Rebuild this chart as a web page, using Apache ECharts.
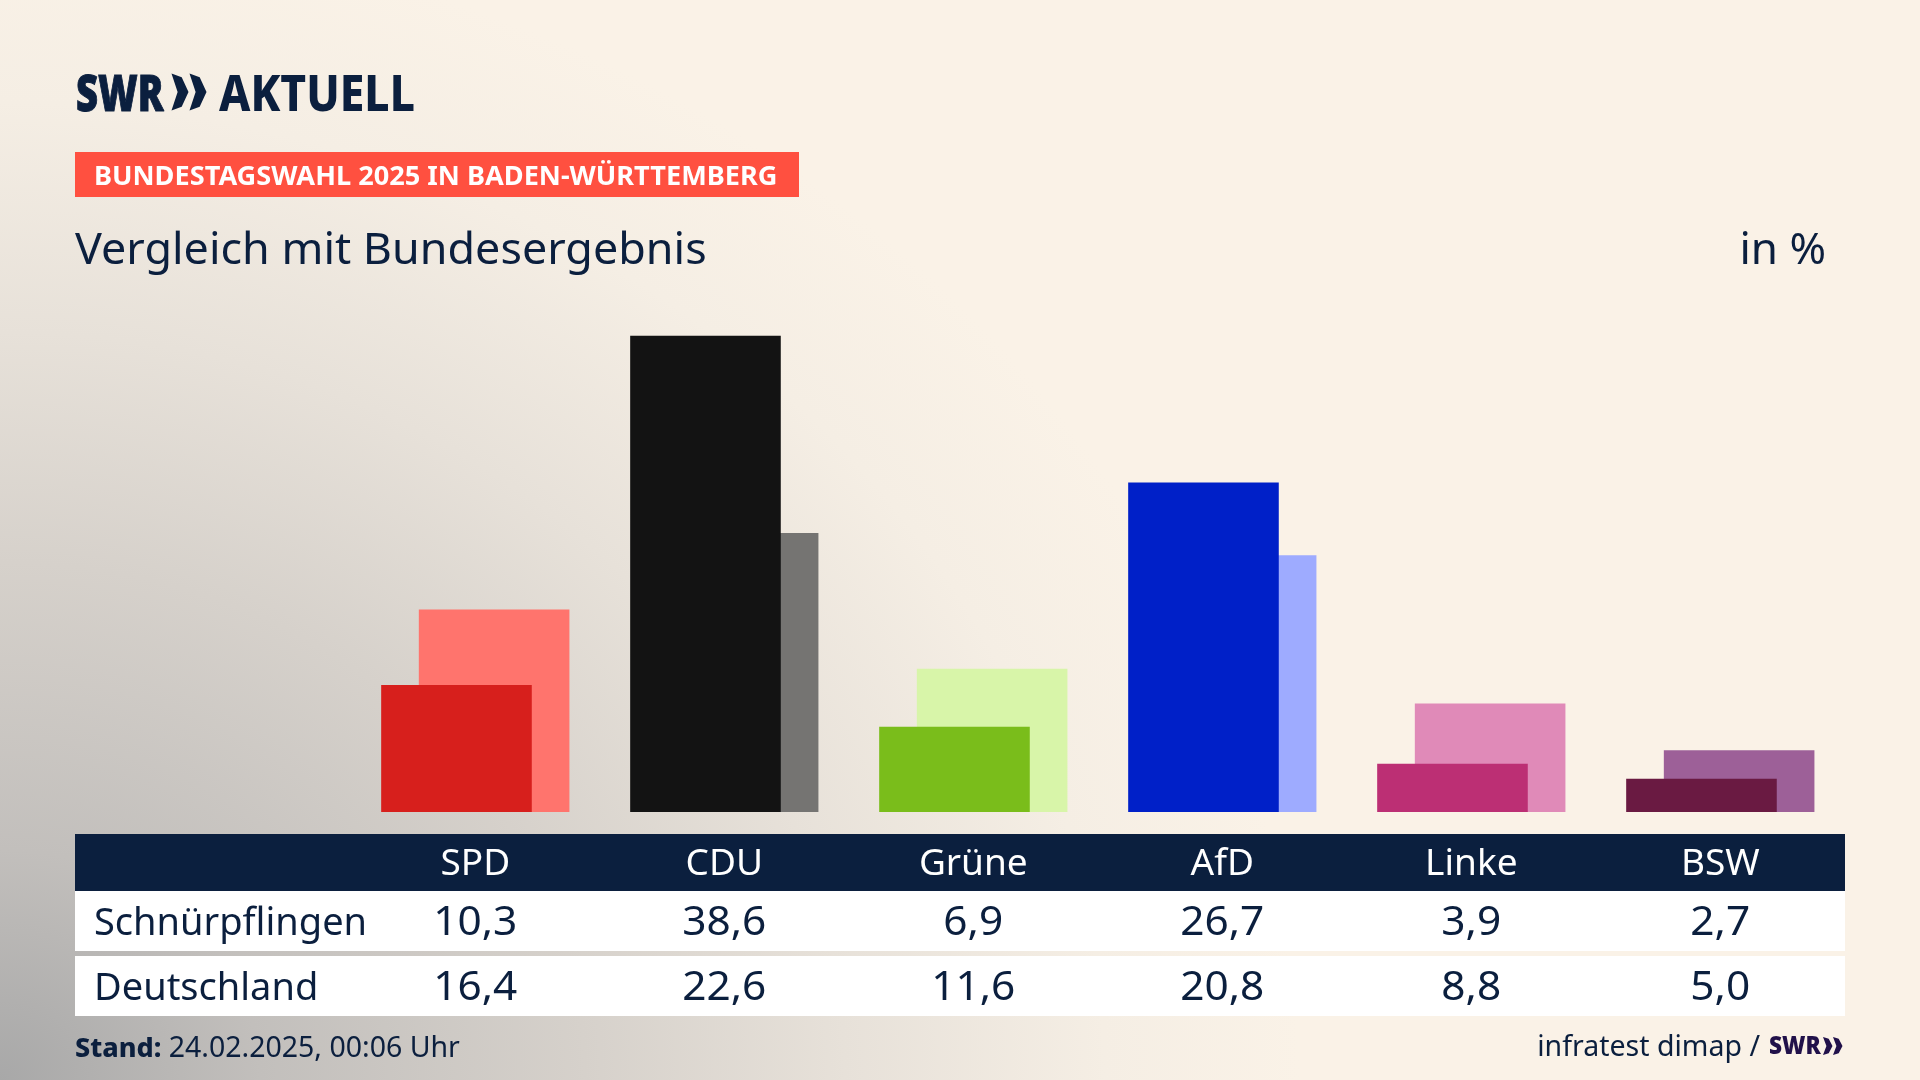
<!DOCTYPE html>
<html>
<head>
<meta charset="utf-8">
<style>
    html,body{margin:0;padding:0;width:1920px;height:1080px;overflow:hidden;background:#FAF2E7;}
    #main{width:1920px;height:1080px;background:radial-gradient(ellipse 1300px 1150px at 0px 1080px,#a8a8a8 0%,#c2bfbc 20%,#d6d1cb 45%,#e7e1d9 65%,#f5eee4 85%,#FAF2E7 100%);}
</style>
</head>
<body>
<div id="main"></div>
<script src="https://cdn.jsdelivr.net/npm/echarts@6/dist/echarts.min.js"></script>
<script>
    var parties=['SPD','CDU','Grüne','AfD','Linke','BSW'];
    var local=[10.3,38.6,6.9,26.7,3.9,2.7];
    var national=[16.4,22.6,11.6,20.8,8.8,5.0];
    var localName='Schnürpflingen';
    var nationalName='Deutschland';
    var localColors=['#D71F1C','#131313','#7ABD1B','#0020C8','#BC2F74','#6A1A42'];
    var nationalColors=['#FF746D','#757472','#D8F5A9','#9EABFF','#E08AB8','#9D6098'];

    var navy='#0B1F3E';
    var font='"Noto Sans"';

    function fmt(v){
        return v.toFixed(1).replace('.',',');
    }
    function bars(values,colors){
        return values.map(function(v,i){
            return {value:v,itemStyle:{color:colors[i]}};
        });
    }
    function text(x,y,str,size,opt){
        opt=opt||{};
        return {
            type:'text',x:x,y:y,z:opt.z||5,silent:true,
            scaleX:opt.sx||1,
            style:{
                text:str,fill:opt.color||navy,
                font:(opt.weight||'400')+' '+size+'px '+font,
                align:opt.align||'left',verticalAlign:'middle',
                stroke:opt.stroke,lineWidth:opt.stroke?1:0,
                rich:opt.rich
            }
        };
    }
    function rect(x,y,w,h,color){
        return {type:'rect',z:0,silent:true,shape:{x:x,y:y,width:w,height:h},style:{fill:color}};
    }
    function chevrons(x,y,w,h,gap,color){
        // double arrow of the logo
        var out=[];
        for(var k=0;k<2;k++){
            var a=x+k*(w+gap);
            out.push({
                type:'polygon',z:5,silent:true,
                shape:{points:[[a,y],[a+w*0.6,y+h*0.1],[a+w,y+h/2],[a+w*0.6,y+h*0.9],[a,y+h],[a+w*0.36,y+h/2]]},
                style:{fill:color}
            });
        }
        return out;
    }

    var myChart=echarts.init(document.getElementById('main'),null,{renderer:'canvas'});
    var option={
        animation:false,
        backgroundColor:'transparent',
        textStyle:{fontFamily:font},
        grid:{left:350.8,width:1494,top:318.4,height:493.6},
        xAxis:{
            type:'category',
            data:parties,
            z:3,
            axisLine:{show:false},
            axisTick:{show:false},
            axisLabel:{color:'#ffffff',fontSize:37,fontFamily:font,margin:34}
        },
        yAxis:{
            type:'value',min:0,max:40,show:false,splitLine:{show:false}
        },
        series:[
            {name:localName,type:'bar',z:3,barWidth:150.6,barGap:'-75%',data:bars(local,localColors)},
            {name:nationalName,type:'bar',z:2,barWidth:150.6,data:bars(national,nationalColors)}
        ]
    };
    myChart.setOption(option);

    var els=[
        rect(75,834,1770,57,navy),
        rect(75,891,1770,60,'#ffffff'),
        rect(75,956,1770,60,'#ffffff'),
        rect(75,152,724,45,'#FF5040'),
        text(76,97,'SWR',49,{weight:'900',sx:0.78,stroke:navy}),
        text(219,97,'AKTUELL',49,{weight:'800',sx:0.905}),
        text(94,177,'BUNDESTAGSWAHL 2025 IN BADEN-WÜRTTEMBERG',27,{weight:'700',color:'#ffffff',sx:1.005}),
        text(75,251,'Vergleich mit Bundesergebnis',44,{sx:1.02}),
        text(1826,251,'in %',44,{align:'right'}),
        text(94,924,localName,38),
        text(94,989,nationalName,38),
        text(75,1049,'{b|Stand:} {d|24.02.2025, 00:06 Uhr}',28,{rich:{
            b:{font:'800 27px '+font,fill:navy},
            d:{font:'400 28.5px '+font,fill:navy}
        }}),
        text(1760,1048,'infratest dimap /',28.5,{align:'right'}),
        text(1769,1047,'SWR',24,{weight:'900',color:'#21114A',sx:0.94})
    ].concat(chevrons(171.5,73.5,17,37,1,navy)).concat(chevrons(1823,1037,9.5,18,0.5,'#21114A'));

    parties.forEach(function(p,i){
        var cx=myChart.convertToPixel({xAxisIndex:0},p);
        els.push(text(cx,924,fmt(local[i]),40,{align:'center',sx:1.06}));
        els.push(text(cx,989,fmt(national[i]),40,{align:'center',sx:1.06}));
    });
    myChart.setOption({graphic:{elements:els}});
</script>
</body>
</html>
